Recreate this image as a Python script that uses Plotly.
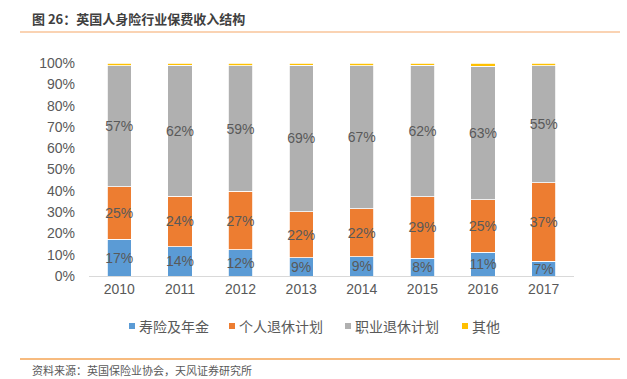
import plotly.graph_objects as go

years = ["2010", "2011", "2012", "2013", "2014", "2015", "2016", "2017"]
life_annuity = [17.3, 13.8, 12.3, 8.6, 9.1, 8.4, 11.2, 7.0]
personal_pension = [24.7, 23.6, 27.4, 21.6, 22.4, 28.8, 24.6, 36.8]
occupational_pension = [56.8, 61.6, 59.0, 68.8, 67.2, 61.8, 62.7, 55.0]
other = [1.2, 1.0, 1.3, 1.0, 1.3, 1.0, 1.5, 1.2]

names = ["寿险及年金", "个人退休计划", "职业退休计划", "其他"]
colors = ["#5B9BD5", "#ED7D31", "#B0B0B0", "#FFC000"]
series = [life_annuity, personal_pension, occupational_pension, other]
show_labels = [True, True, True, False]

FONT = "Liberation Sans, Arial, Noto Sans CJK SC, sans-serif"
CJK = "Noto Sans CJK SC, sans-serif"

W, H = 627, 379
L, R, T, B = 89, 53, 63, 103
PW, PH = W - L - R, H - T - B


def px(x):
    return (x - L) / PW


def py(y):
    return (H - B - y) / PH


fig = go.Figure()
for name, col, vals, lab in zip(names, colors, series, show_labels):
    fig.add_trace(go.Bar(
        x=years, y=[v / 100 for v in vals], name=name,
        marker=dict(color=col, line=dict(color="white", width=0.8)),
        text=[f"{round(v)}%" for v in vals] if lab else None,
        textposition="inside" if lab else "none",
        insidetextanchor="middle",
        textangle=0,
        textfont=dict(size=14, color="#595959", family=FONT),
        hoverinfo="skip",
        showlegend=False,
    ))

fig.update_layout(
    barmode="stack",
    bargap=0.6,
    width=W, height=H,
    margin=dict(l=L, r=R, t=T, b=B, autoexpand=False),
    paper_bgcolor="white", plot_bgcolor="white",
    font=dict(family=FONT, color="#595959", size=14),
    uniformtext=dict(minsize=14, mode="show"),
    showlegend=False,
    xaxis=dict(showline=True, linecolor="#D9D9D9", linewidth=1, ticks="",
               tickfont=dict(size=14, color="#595959"), showgrid=False),
    yaxis=dict(range=[0, 1], tickvals=[i / 10 for i in range(11)],
               ticktext=[f"{i*10}%" for i in range(11)], showgrid=False,
               zeroline=False, showline=False, ticks="",
               tickfont=dict(size=14, color="#595959"), ticklabelstandoff=13),
)

# Legend drawn manually to match the compact reference spacing
legend_sq_x = [129, 229, 345, 462]
legend_y = 326
for name, col, sx in zip(names, colors, legend_sq_x):
    fig.add_shape(type="rect", xref="paper", yref="paper",
                  x0=px(sx), x1=px(sx + 6), y0=py(legend_y + 3), y1=py(legend_y - 3),
                  fillcolor=col, line=dict(width=0))
    fig.add_annotation(text=name, xref="paper", yref="paper",
                       x=px(sx + 8), y=py(legend_y), xanchor="left", yanchor="middle",
                       showarrow=False, font=dict(size=14, color="#595959", family=CJK))

fig.add_annotation(text="<b>图 26：英国人身险行业保费收入结构</b>", xref="paper", yref="paper",
                   x=px(30), y=py(18), xanchor="left", yanchor="middle",
                   showarrow=False, font=dict(size=13, color="#404040", family=CJK))
fig.add_annotation(text="资料来源：英国保险业协会，天风证券研究所", xref="paper", yref="paper",
                   x=px(30), y=py(370), xanchor="left", yanchor="middle",
                   showarrow=False, font=dict(size=11, color="#595959", family=CJK))
fig.add_shape(type="line", xref="paper", yref="paper",
              x0=px(20), x1=px(620), y0=py(32), y1=py(32),
              line=dict(color="#F8C49A", width=1.5))
fig.add_shape(type="line", xref="paper", yref="paper",
              x0=px(20), x1=px(620), y0=py(359), y1=py(359),
              line=dict(color="#F5A455", width=1.5))

fig.write_html("out.html",
               config={"displayModeBar": False},
               post_script="document.body.style.margin='0px';document.body.style.overflow='hidden';")
